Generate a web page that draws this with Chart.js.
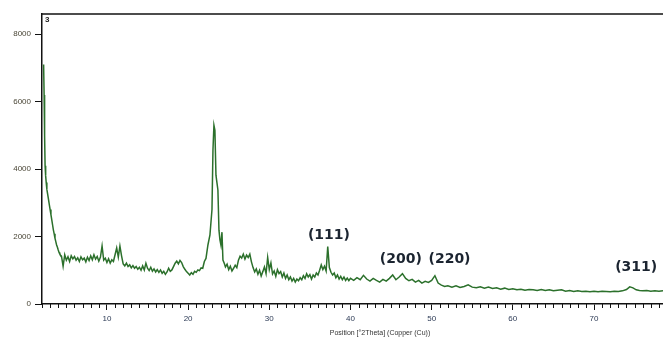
<!DOCTYPE html>
<html>
<head>
<meta charset="utf-8">
<script src="https://cdn.jsdelivr.net/npm/chart.js@4.4.1/dist/chart.umd.min.js"></script>
<style>
  html, body { margin: 0; padding: 0; background: #fff; }
  #wrap { width: 663px; height: 338px; position: relative; }
</style>
</head>
<body>
<div id="wrap"><canvas id="xrd"></canvas></div>
<script>
// diffractogram (2theta in degrees, counts)
const twoTheta = [
  2.2, 2.26, 2.32, 2.38, 2.45, 2.52, 2.6, 2.7, 2.8, 2.9, 3.0, 3.1, 3.2, 3.3, 3.4, 3.5, 3.6, 3.7, 3.8, 3.9, 4.0, 4.1, 4.2, 4.3,
  4.4, 4.6, 4.8, 5.0, 5.2, 5.4, 5.6, 5.8, 6.0, 6.2, 6.4, 6.6, 6.8, 7.0, 7.2, 7.4, 7.6, 7.8, 8.0, 8.2, 8.4, 8.6, 8.8, 9.0, 9.2, 9.4, 9.6, 9.8,
  10.0, 10.2, 10.4, 10.6, 10.8, 11.0, 11.2, 11.4, 11.6, 11.8, 12.0, 12.2, 12.4, 12.6, 12.8, 13.0, 13.2, 13.4, 13.6, 13.8,
  14.0, 14.2, 14.4, 14.6, 14.8, 15.0, 15.2, 15.4, 15.6, 15.8, 16.0, 16.2, 16.4, 16.6, 16.8, 17.0, 17.2, 17.4, 17.6, 17.8,
  18.0, 18.2, 18.4, 18.6, 18.8, 19.0, 19.2, 19.4, 19.6, 19.8, 20.0, 20.2, 20.4, 20.6, 20.8, 21.0, 21.2, 21.4, 21.6, 21.8, 22.0,
  22.2, 22.44, 22.69, 22.94, 23.06, 23.18, 23.3, 23.43, 23.55, 23.67, 23.8, 23.92, 24.04, 24.17, 24.29, 24.45,
  24.6, 24.8, 25.0, 25.2, 25.4, 25.6, 25.8, 26.0, 26.2, 26.4, 26.6, 26.8, 27.0, 27.2, 27.4, 27.6, 27.8,
  28.0, 28.2, 28.4, 28.6, 28.8, 29.0, 29.2, 29.4, 29.6, 29.8, 30.0, 30.2, 30.4, 30.6, 30.8, 31.0, 31.2, 31.4, 31.6, 31.8,
  32.0, 32.2, 32.4, 32.6, 32.8, 33.0, 33.2, 33.4, 33.6, 33.8, 34.0, 34.2, 34.4, 34.6, 34.8, 35.0, 35.2, 35.4, 35.6, 35.8,
  36.0, 36.2, 36.4, 36.6, 36.8, 37.0, 37.2, 37.4, 37.6, 37.8, 38.0, 38.2, 38.4, 38.6, 38.8, 39.0, 39.2, 39.4, 39.6, 39.8,
  40.0, 40.4, 40.8, 41.2, 41.6, 42.0, 42.4, 42.8, 43.2, 43.6, 44.0, 44.4, 44.8, 45.2, 45.6, 46.0, 46.4, 46.8, 47.2, 47.6,
  48.0, 48.4, 48.8, 49.2, 49.6, 50.0, 50.4, 50.8, 51.2, 51.6, 52.0, 52.5, 53.0, 53.5, 54.0, 54.5, 55.0, 55.5, 56.0, 56.5,
  57.0, 57.5, 58.0, 58.5, 59.0, 59.5, 60.0, 60.5, 61.0, 61.5, 62.0, 62.5, 63.0, 63.5, 64.0, 64.5, 65.0, 65.5, 66.0, 66.5,
  67.0, 67.5, 68.0, 68.5, 69.0, 69.5, 70.0, 70.5, 71.0, 71.5, 72.0, 72.5, 73.0, 73.5, 74.0, 74.4, 74.8, 75.2, 75.6, 76.0,
  76.5, 77.0, 77.5, 78.0, 78.5
];
const counts = [
  7100, 6200, 5000, 4100, 3800, 3600, 3400, 3250, 3100, 2950, 2800, 2650, 2500, 2350, 2200, 2080, 1950, 1850, 1750, 1680, 1600, 1530, 1480, 1440,
  1420, 1120, 1460, 1300, 1400, 1260, 1430, 1340, 1410, 1300, 1370, 1260, 1400, 1310, 1360, 1250, 1390, 1290, 1430, 1310, 1460, 1330, 1410, 1270, 1390, 1720, 1300, 1360,
  1230, 1340, 1210, 1310, 1260, 1460, 1660, 1390, 1720, 1430, 1190, 1130, 1210, 1110, 1160, 1070, 1140, 1060, 1110, 1030,
  1090, 1000, 1130, 1010, 1210, 1060, 990, 1090, 970, 1040, 950, 1020, 940, 1010, 910, 970, 880, 950, 1060, 970,
  1010, 1110, 1210, 1270, 1190, 1290, 1230, 1110, 1030, 960, 910, 860, 930, 880, 970, 940, 1010, 990, 1070, 1060, 1260,
  1350, 1750, 2050, 2800, 4560, 5300, 5150, 3820, 3600, 3380, 2190, 1900, 1750, 2130, 1300, 1210,
  1100, 1180, 1020, 1120, 980, 1060, 1150, 1080, 1300, 1420, 1360, 1480, 1330, 1450, 1380, 1480, 1250,
  1080, 950, 1040, 880, 1000, 830, 960, 1100, 900, 1380, 1020, 1220, 890, 980, 820, 1020, 900, 960, 800, 920,
  760, 860, 720, 800, 680, 760, 650, 740, 690, 780, 720, 840, 760, 900, 800, 870, 740, 860, 800, 920,
  860, 1000, 1160, 1020, 1120, 980, 1700, 1080, 940, 860, 920, 780, 860, 740, 820, 720, 800, 700, 770, 690,
  760, 700, 780, 720, 850, 740, 680, 760, 700, 650, 730, 680, 760, 860, 720, 800, 900, 760, 690, 730,
  650, 700, 620, 670, 640, 700, 840, 620, 560, 520, 540, 500, 540, 490, 520, 570, 500, 480, 510, 470,
  500, 460, 480, 440, 470, 430, 450, 420, 440, 410, 430, 420, 400, 430, 400, 420, 390, 410, 420, 380,
  400, 370, 390, 370, 380, 360, 380, 360, 380, 370, 360, 380, 370, 390, 430, 510, 480, 420, 400, 390,
  400, 380, 390, 380, 390
];

const xTicks = [10, 20, 30, 40, 50, 60, 70];
const yTicks = [0, 2000, 4000, 6000, 8000];

// Miller indices written above the peaks
const hklText = ['(111)', '(200)', '(220)', '(311)'];
const hklX = [37.35, 46.2, 52.2, 75.2];
const hklY = [2050, 1330, 1330, 1100];

const xTitle = 'Position [°2Theta] (Copper (Cu))';

const extras = {
  id: 'extras',
  afterDraw(chart) {
    const { ctx, chartArea: a, scales: { x, y } } = chart;
    ctx.save();
    ctx.strokeStyle = '#111';
    // top frame line
    ctx.lineWidth = 1.5;
    ctx.beginPath(); ctx.moveTo(a.left, a.top); ctx.lineTo(a.right, a.top); ctx.stroke();
    // minor ticks every degree
    ctx.lineWidth = 1;
    ctx.beginPath();
    for (let v = Math.ceil(x.min); v <= x.max; v++) {
      if (v % 10 === 0) continue;
      const px = Math.round(x.getPixelForValue(v)) + 0.5;
      ctx.moveTo(px, a.bottom); ctx.lineTo(px, a.bottom + 4);
    }
    ctx.stroke();
    // scan number
    ctx.fillStyle = '#222';
    ctx.font = 'bold 8px "Liberation Sans"';
    ctx.textAlign = 'left'; ctx.textBaseline = 'top';
    ctx.fillText('3', a.left + 3, a.top + 2);
    // hkl labels
    ctx.font = 'bold 14px "DejaVu Sans"';
    ctx.fillStyle = '#1b2430';
    ctx.textAlign = 'center'; ctx.textBaseline = 'middle';
    hklText.forEach((t, i) => ctx.fillText(t, x.getPixelForValue(hklX[i]), y.getPixelForValue(hklY[i])));
    // axis title
    ctx.font = '7px "Liberation Sans"';
    ctx.fillStyle = '#333';
    ctx.fillText(xTitle, 380, 333);
    ctx.restore();
  }
};

new Chart(document.getElementById('xrd'), {
  type: 'line',
  data: {
    datasets: [{
      data: twoTheta.map((t, i) => ({ x: t, y: counts[i] })),
      borderColor: '#2b702b', borderWidth: 1.5, pointRadius: 0, tension: 0, fill: false,
    }]
  },
  options: {
    responsive: true, maintainAspectRatio: false, animation: false,
    layout: { padding: { top: 14, right: 0, left: 0, bottom: 0 } },
    plugins: { legend: { display: false }, tooltip: { enabled: false } },
    scales: {
      x: {
        type: 'linear', min: 2, max: 78.5,
        afterBuildTicks: s => { s.ticks = xTicks.map(v => ({ value: v })); },
        afterFit: s => { s.height = 34; },
        border: { display: true, color: '#111', width: 1.5 },
        grid: { display: true, drawOnChartArea: false, drawTicks: true, tickLength: 6, tickColor: '#111', tickWidth: 1 },
        ticks: { padding: 4, color: '#2c3a55', font: { family: 'Liberation Sans', size: 8 }, maxRotation: 0,
          callback: v => String(v) },
      },
      y: {
        min: 0, max: 8600,
        afterBuildTicks: s => { s.ticks = yTicks.map(v => ({ value: v })); },
        afterFit: s => { s.width = 42; },
        border: { display: true, color: '#111', width: 1.5 },
        grid: { display: true, drawOnChartArea: false, drawTicks: true, tickLength: 7, tickColor: '#111', tickWidth: 1 },
        ticks: { padding: 4, color: '#4a4636', font: { family: 'Liberation Sans', size: 8 },
          callback: v => String(v) },
      }
    }
  },
  plugins: [extras]
});
</script>
</body>
</html>
